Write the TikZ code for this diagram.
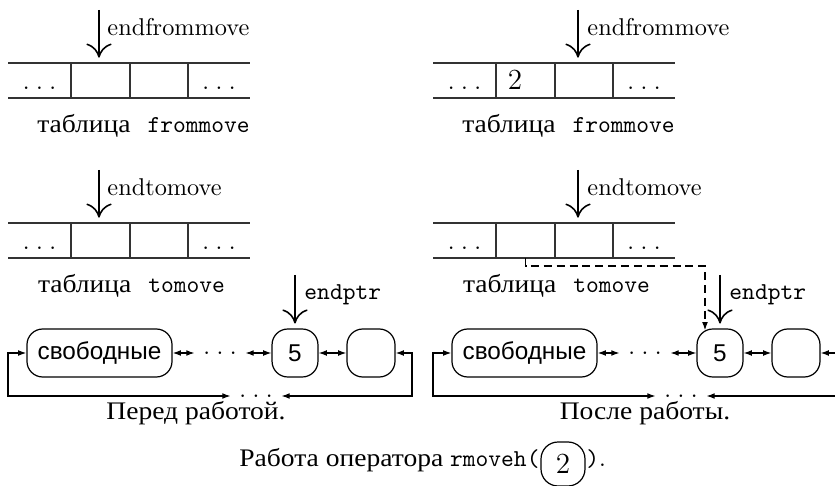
\documentclass[tikz,border=0pt]{standalone}
\usepackage{fontspec}
\newfontfamily\cyrrm{Liberation Serif}[Scale=1.04,FakeStretch=1.09]
\newfontfamily\cyrsf{Liberation Sans}
\usetikzlibrary{arrows.meta}
% widely spaced ellipsis
\newcommand\wdots{.\kern2.7pt.\kern2.7pt.}
% a four-cell memory table: #1 name prefix, #2 top edge, #3 contents of cell 2
\newcommand\memtable[3]{%
  \draw[tableline] (8,#2) -- (250,#2) (8,#2+35) -- (250,#2+35);
  \foreach \x in {71,130,188} \draw[tableline] (\x,#2) -- (\x,#2+35);
  \node[cell] (#1c1) at (39.5,#2+17.5) {\wdots};
  \node[cell] (#1c2) at (100.5,#2+17.5) {#3};
  \node[cell] (#1c3) at (159,#2+17.5) {};
  \node[cell] (#1c4) at (219,#2+17.5) {\wdots};
}
% the doubly linked list with its end pointer
\newcommand\listpanel[1]{%
  \node[listnode,minimum width=59.7pt] (#1free) at (99.5,353) {свободные};
  \node[dotsnode] (#1md) at (220,353) {\wdots};
  \node[listnode,minimum width=18.9pt] (#15) at (295,353) {5};
  \node[listnode,minimum width=19.75pt] (#1e) at (371,353) {};
  \node[dotsnode] (#1bd) at (256,396) {\wdots};
  \coordinate (#1cl) at (8,353);
  \coordinate (#1cr) at (412,353);
  \draw[link] (#1free) -- (#1md);
  \draw[link] (#1md) -- (#15);
  \draw[link] (#15) -- (#1e);
  \draw[link] (#1bd.west) -| (#1cl) -- (#1free);
  \draw[link] (#1bd.east) -| (#1cr) -- (#1e);
  \coordinate (#1pp) at (295,275);
  \draw[ptr] (#1pp) -- (#15);
  \node[ptrlabel] (#1ptrl) at (304,295) {\texttt{endptr}};
}
\begin{document}
\begin{tikzpicture}[x=0.4115pt,y=-0.4115pt,
  tableline/.style={line width=0.5pt,draw=black!80},
  cell/.style={inner sep=0pt,minimum width=24pt,minimum height=14.4pt,
               text height=10.7pt,text depth=3.7pt},
  ptr/.style={line width=0.65pt,shorten >=2pt,
              -{Computer Modern Rightarrow[length=5.8pt,width=10.4pt,line width=0.65pt]}},
  ptrlabel/.style={anchor=west,inner sep=0pt},
  listnode/.style={draw,line width=0.5pt,rounded corners=6.5pt,
                   minimum height=19.75pt,inner sep=0pt,font=\cyrsf},
  link/.style={line width=0.5pt,
               {Latex[length=3.4pt,width=2.4pt]}-{Latex[length=3.4pt,width=2.4pt]}},
  dashedlink/.style={line width=0.5pt,dash pattern=on 3.3pt off 2pt,
               shorten >=-0.8pt,-{Latex[length=3.4pt,width=2.4pt]}},
  dotsnode/.style={inner xsep=3.4pt,inner ysep=0pt},
  tablecaption/.style={anchor=base,inner sep=0pt,font=\cyrrm},
]
\useasboundingbox (0,0) rectangle (835,486);
\clip (0,0) rectangle (835,486);

% ---- before ----
\memtable{lf}{63}{}
\coordinate (lfp) at (99,10);
\draw[ptr] (lfp) -- (lfp |- lfc2.north);
\node[ptrlabel] (lfl) at (107,27) {endfrommove};
\node[tablecaption] (lfcap) at (143.5,133) {таблица\hspace{7pt}\texttt{frommove}};

\memtable{lt}{223}{}
\coordinate (ltp) at (99,170);
\draw[ptr] (ltp) -- (ltp |- ltc2.north);
\node[ptrlabel] (ltl) at (107,187) {endtomove};
\node[tablecaption] (ltcap) at (131.5,293) {таблица\hspace{7pt}\texttt{tomove}};

\listpanel{l}
\node[tablecaption] (lcap) at (196,419) {Перед работой.};

% ---- after ----
\begin{scope}[shift={(425,0)}]
\memtable{rf}{63}{{\large 2}\kern8.6pt}
\coordinate (rfp) at (153,10);
\draw[ptr] (rfp) -- (rfp |- rfc3.north);
\node[ptrlabel] (rfl) at (162,27) {endfrommove};
\node[tablecaption] (rfcap) at (143.5,133) {таблица\hspace{7pt}\texttt{frommove}};

\memtable{rt}{223}{}
\coordinate (rtp) at (153,170);
\draw[ptr] (rtp) -- (rtp |- rtc3.north);
\node[ptrlabel] (rtl) at (162,187) {endtomove};
\node[tablecaption] (rtcap) at (131.5,293) {таблица\hspace{7pt}\texttt{tomove}};

\listpanel{r}
\coordinate (rdc) at (280,266);
\draw[dashedlink] (rtc2.south) |- (rdc) -- (rdc |- r5.north);
\node[tablecaption] (rcap) at (220,419) {После работы.};
\end{scope}

% ---- caption ----
\node[anchor=base east,inner sep=0pt] (capl) at (540,466)
  {{\cyrrm Работа оператора }\texttt{rmoveh(}};
\node[listnode,font=\large,rounded corners=7pt,minimum width=18.1pt,
      minimum height=18.1pt] (arg) at (563,464) {2};
\node[anchor=base west,inner sep=0pt] (capr) at (586,466) {\texttt{)}.};
\end{tikzpicture}
\end{document}
